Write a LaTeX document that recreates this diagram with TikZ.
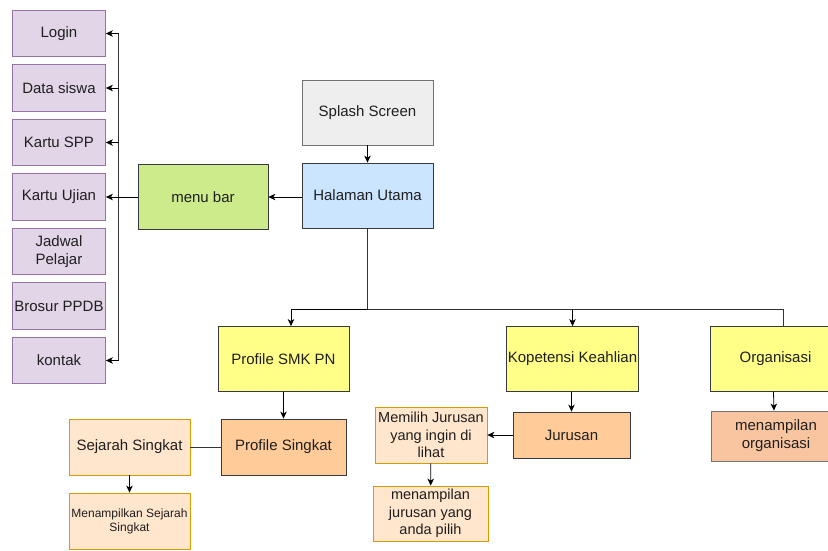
\documentclass[tikz,border=0pt]{standalone}
\usepackage{fontspec}
\setmainfont{Liberation Sans}
\usetikzlibrary{arrows.meta}

\definecolor{edgegray}{HTML}{36393D}
\definecolor{txtgray}{HTML}{1F1F1F}
\definecolor{menufill}{HTML}{E1D5E7}
\definecolor{menudraw}{HTML}{9673A6}
\definecolor{barfill}{HTML}{CDEB8B}
\definecolor{splashfill}{HTML}{EEEEEE}
\definecolor{homefill}{HTML}{CCE5FF}
\definecolor{pagefill}{HTML}{FFFF88}
\definecolor{subfill}{HTML}{FFCC99}
\definecolor{orgfill}{HTML}{F9C5A0}
\definecolor{infofill}{HTML}{FFE6CC}
\definecolor{infodraw}{HTML}{D79B00}

\tikzset{
  box/.style={draw=edgegray, line width=0.8pt, align=center, inner sep=1pt,
    minimum width=131pt, minimum height=65pt, text=txtgray,
    font=\fontsize{15}{18}\selectfont},
  menuitem/.style={box, draw=menudraw, fill=menufill, minimum width=93pt, minimum height=46.5pt},
  subbox/.style={box, fill=subfill},
  infobox/.style={box, draw=infodraw, fill=infofill},
  arr/.style={-{Stealth[length=7pt,width=6.5pt,inset=2pt]}, line width=0.8pt, black},
  link/.style={line width=0.8pt, black!80}
}

\begin{document}
\begin{tikzpicture}[x=1pt,y=-1pt]
  \clip (0,0) rectangle (828,550);
  % Parameters
  \def\busx{118.5} % x of the menu bus line

  % Left menu items
  \foreach \i/\txt in {1/Login, 2/Data siswa, 3/Kartu SPP, 4/Kartu Ujian,
                       5/{Jadwal\\Pelajar}, 6/Brosur PPDB, 7/kontak}
    \node[menuitem] (m\i) at (59, {33.5+54.5*(\i-1)}) {\txt};

  % Bus to the menu items
  \coordinate (busTop) at (\busx, 33.5);
  \coordinate (busBot) at (\busx, 360.5);
  \draw[link] (busTop) -- (busBot);
  \foreach \i in {1,2,3,7}
    \draw[arr] (\busx, {33.5+54.5*(\i-1)}) -- (m\i.east);

  % Main flow
  \node[box, fill=splashfill, draw=black!55] (splash) at (367.5, 112.5) {Splash Screen};
  \node[box, fill=homefill] (home) at (367.5, 195.5) {Halaman Utama};
  \node[box, fill=barfill, minimum width=130pt] (bar) at (203, 197) {menu bar};

  \draw[arr] (splash) -- (home);
  \draw[arr] (home.west |- bar.east) -- (bar.east);
  \draw[arr] (bar.west) -- (m4.east);

  % Pages
  \node[box, fill=pagefill] (profil) at (283.5, 359) {Profile SMK PN};
  \node[box, fill=pagefill] (kompetensi) at (572.5, 359) {Kopetensi Keahlian};
  \node[box, fill=pagefill] (organisasi) at (775.5, 359) {Organisasi};

  % Branching from the home page
  \coordinate (bus) at (367.5, 309);
  \draw[link] (home.south) -- (bus);
  \draw[arr] (bus) -| ([xshift=7.5pt]profil.north);
  \draw[arr] (bus) -| (kompetensi.north);
  \draw[link] (bus) -| ([xshift=7.5pt]organisasi.north);

  % Profile branch
  \node[subbox, minimum width=125pt, minimum height=56pt] (singkat) at (283.5, 447) {Profile Singkat};
  \node[infobox, minimum width=121pt, minimum height=56pt] (sejarah) at (129.5, 447) {Sejarah Singkat};
  \node[infobox, minimum width=121pt, minimum height=56pt,
        font=\fontsize{12}{14}\selectfont] (sejarahinfo) at (129.5, 521) {Menampilkan Sejarah\\Singkat};
  \draw[arr] (profil) -- (singkat);
  \draw[link] (singkat) -- (sejarah);
  \draw[arr] (sejarah) -- (sejarahinfo);

  % Kompetensi branch
  \node[subbox, minimum width=117pt, minimum height=46pt] (jurusan) at (571.5, 435) {Jurusan};
  \node[infobox, minimum width=112pt, minimum height=56pt,
        font=\fontsize{14.5}{17.3}\selectfont] (pilih) at (431, 435) {Memilih Jurusan\\yang ingin di\\lihat};
  \node[infobox, minimum width=115pt, minimum height=55pt,
        font=\fontsize{14.5}{17.3}\selectfont] (tampiljur) at (430.5, 513.5) {menampilan\\jurusan yang\\anda pilih};
  \draw[arr] (kompetensi.south -| jurusan.north) -- (jurusan.north);
  \draw[arr] (jurusan) -- (pilih);
  \draw[arr] (pilih) -- (tampiljur);

  % Organisasi branch
  \node[box, fill=orgfill, draw=black!55, minimum width=130pt, minimum height=50pt] (tampilorg) at (776, 436) {menampilan\\organisasi};
  \draw[arr] ([xshift=-2pt]organisasi.south) -- ([xshift=-2pt]tampilorg.north);
\end{tikzpicture}
\end{document}
